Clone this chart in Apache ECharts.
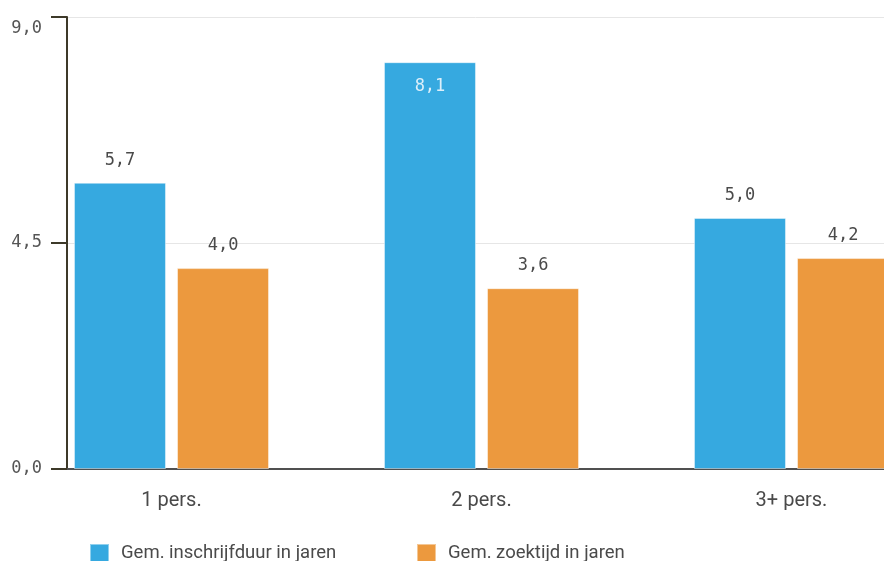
<!DOCTYPE html>
<html>
<head>
<meta charset="utf-8">
<script src="https://cdn.jsdelivr.net/npm/echarts@6/dist/echarts.min.js"></script>
<style>
  html, body { margin: 0; padding: 0; background: #ffffff; }
  #chart { width: 884px; height: 561px; }
</style>
</head>
<body>
<div id="chart"></div>
<script>
// Household size groups
const categories = ['1 pers.', '2 pers.', '3+ pers.'];
// Average registration period (years)
const inschrijfduur = [5.7, 8.1, 5.0];
// Average search time (years)
const zoektijd = [4.0, 3.6, 4.2];
const seriesNames = ['Gem. inschrijfduur in jaren', 'Gem. zoektijd in jaren'];
// Value axis range and tick step
const yMin = 0, yMax = 9, yStep = 4.5;

const BLUE = '#36a9e0';
const ORANGE = '#ec993e';
const TEXT = '#4a4a4a';
const MONO = '"DejaVu Sans Mono", monospace';
const SANS = 'Roboto, "Open Sans", sans-serif';

const fmt = v => v.toFixed(1).replace('.', ',');

const chart = echarts.init(document.getElementById('chart'), null, { renderer: 'canvas' });

const labelTop = {
  show: true, position: 'top', distance: 14,
  fontFamily: MONO, fontSize: 17, color: TEXT,
  formatter: p => fmt(p.value)
};

function barData(values) {
  return values.map(v => {
    // labels of bars that reach close to the top are drawn inside
    if (v > 7.5) {
      return { value: v, label: { position: 'insideTop', distance: 16, color: '#dceffa' } };
    }
    return v;
  });
}

chart.setOption({
  animation: false,
  grid: [
    { left: 67, right: 0, top: 17, bottom: 92, outerBoundsMode: 'none' },
    { left: 16.5, width: 930, top: 17, bottom: 92, outerBoundsMode: 'none' }
  ],
  xAxis: [
    {
      gridIndex: 0, type: 'value', min: 0, max: 1,
      axisLine: { show: true, lineStyle: { color: '#505050', width: 2 } },
      axisTick: { show: false }, axisLabel: { show: false }, splitLine: { show: false }
    },
    {
      gridIndex: 1, type: 'category', data: categories,
      axisLine: { show: false }, axisTick: { show: false },
      axisLabel: { margin: 22, fontFamily: SANS, fontSize: 20, color: TEXT }
    }
  ],
  yAxis: [
    {
      gridIndex: 0, type: 'value', min: yMin, max: yMax, interval: yStep,
      axisLine: { show: true, lineStyle: { color: '#3d3929', width: 2 } },
      axisTick: { show: true, length: 16, lineStyle: { color: '#3d3929', width: 2 } },
      axisLabel: {
        margin: 25, fontFamily: MONO, fontSize: 17, color: '#555555',
        formatter: v => v === yMax ? '{t|' + fmt(v) + '}' : fmt(v),
        rich: { t: { fontFamily: MONO, fontSize: 17, color: '#555555', padding: [24, 0, 0, 0] } }
      },
      splitLine: { show: true, lineStyle: { color: '#e6e6e6', width: 1 } }
    },
    {
      gridIndex: 1, type: 'value', min: yMin, max: yMax, show: false
    }
  ],
  legend: [
    {
      left: 84, top: 538, itemWidth: 19, itemHeight: 19, icon: 'rect',
      data: [seriesNames[0]],
      textStyle: { fontFamily: SANS, fontSize: 18.5, color: TEXT, padding: [0, 0, 0, 7] }
    },
    {
      left: 411, top: 538, itemWidth: 19, itemHeight: 19, icon: 'rect',
      data: [seriesNames[1]],
      textStyle: { fontFamily: SANS, fontSize: 18.5, color: TEXT, padding: [0, 0, 0, 7] }
    }
  ],
  series: [
    {
      name: seriesNames[0], type: 'bar', xAxisIndex: 1, yAxisIndex: 1,
      data: barData(inschrijfduur), barWidth: 92, barGap: '12%',
      itemStyle: { color: BLUE, borderColor: 'rgba(255,255,255,0.45)', borderWidth: 1 },
      label: labelTop
    },
    {
      name: seriesNames[1], type: 'bar', xAxisIndex: 1, yAxisIndex: 1,
      data: barData(zoektijd), barWidth: 92, barGap: '12%',
      itemStyle: { color: ORANGE, borderColor: 'rgba(255,255,255,0.45)', borderWidth: 1 },
      label: labelTop
    }
  ]
});
</script>
</body>
</html>
